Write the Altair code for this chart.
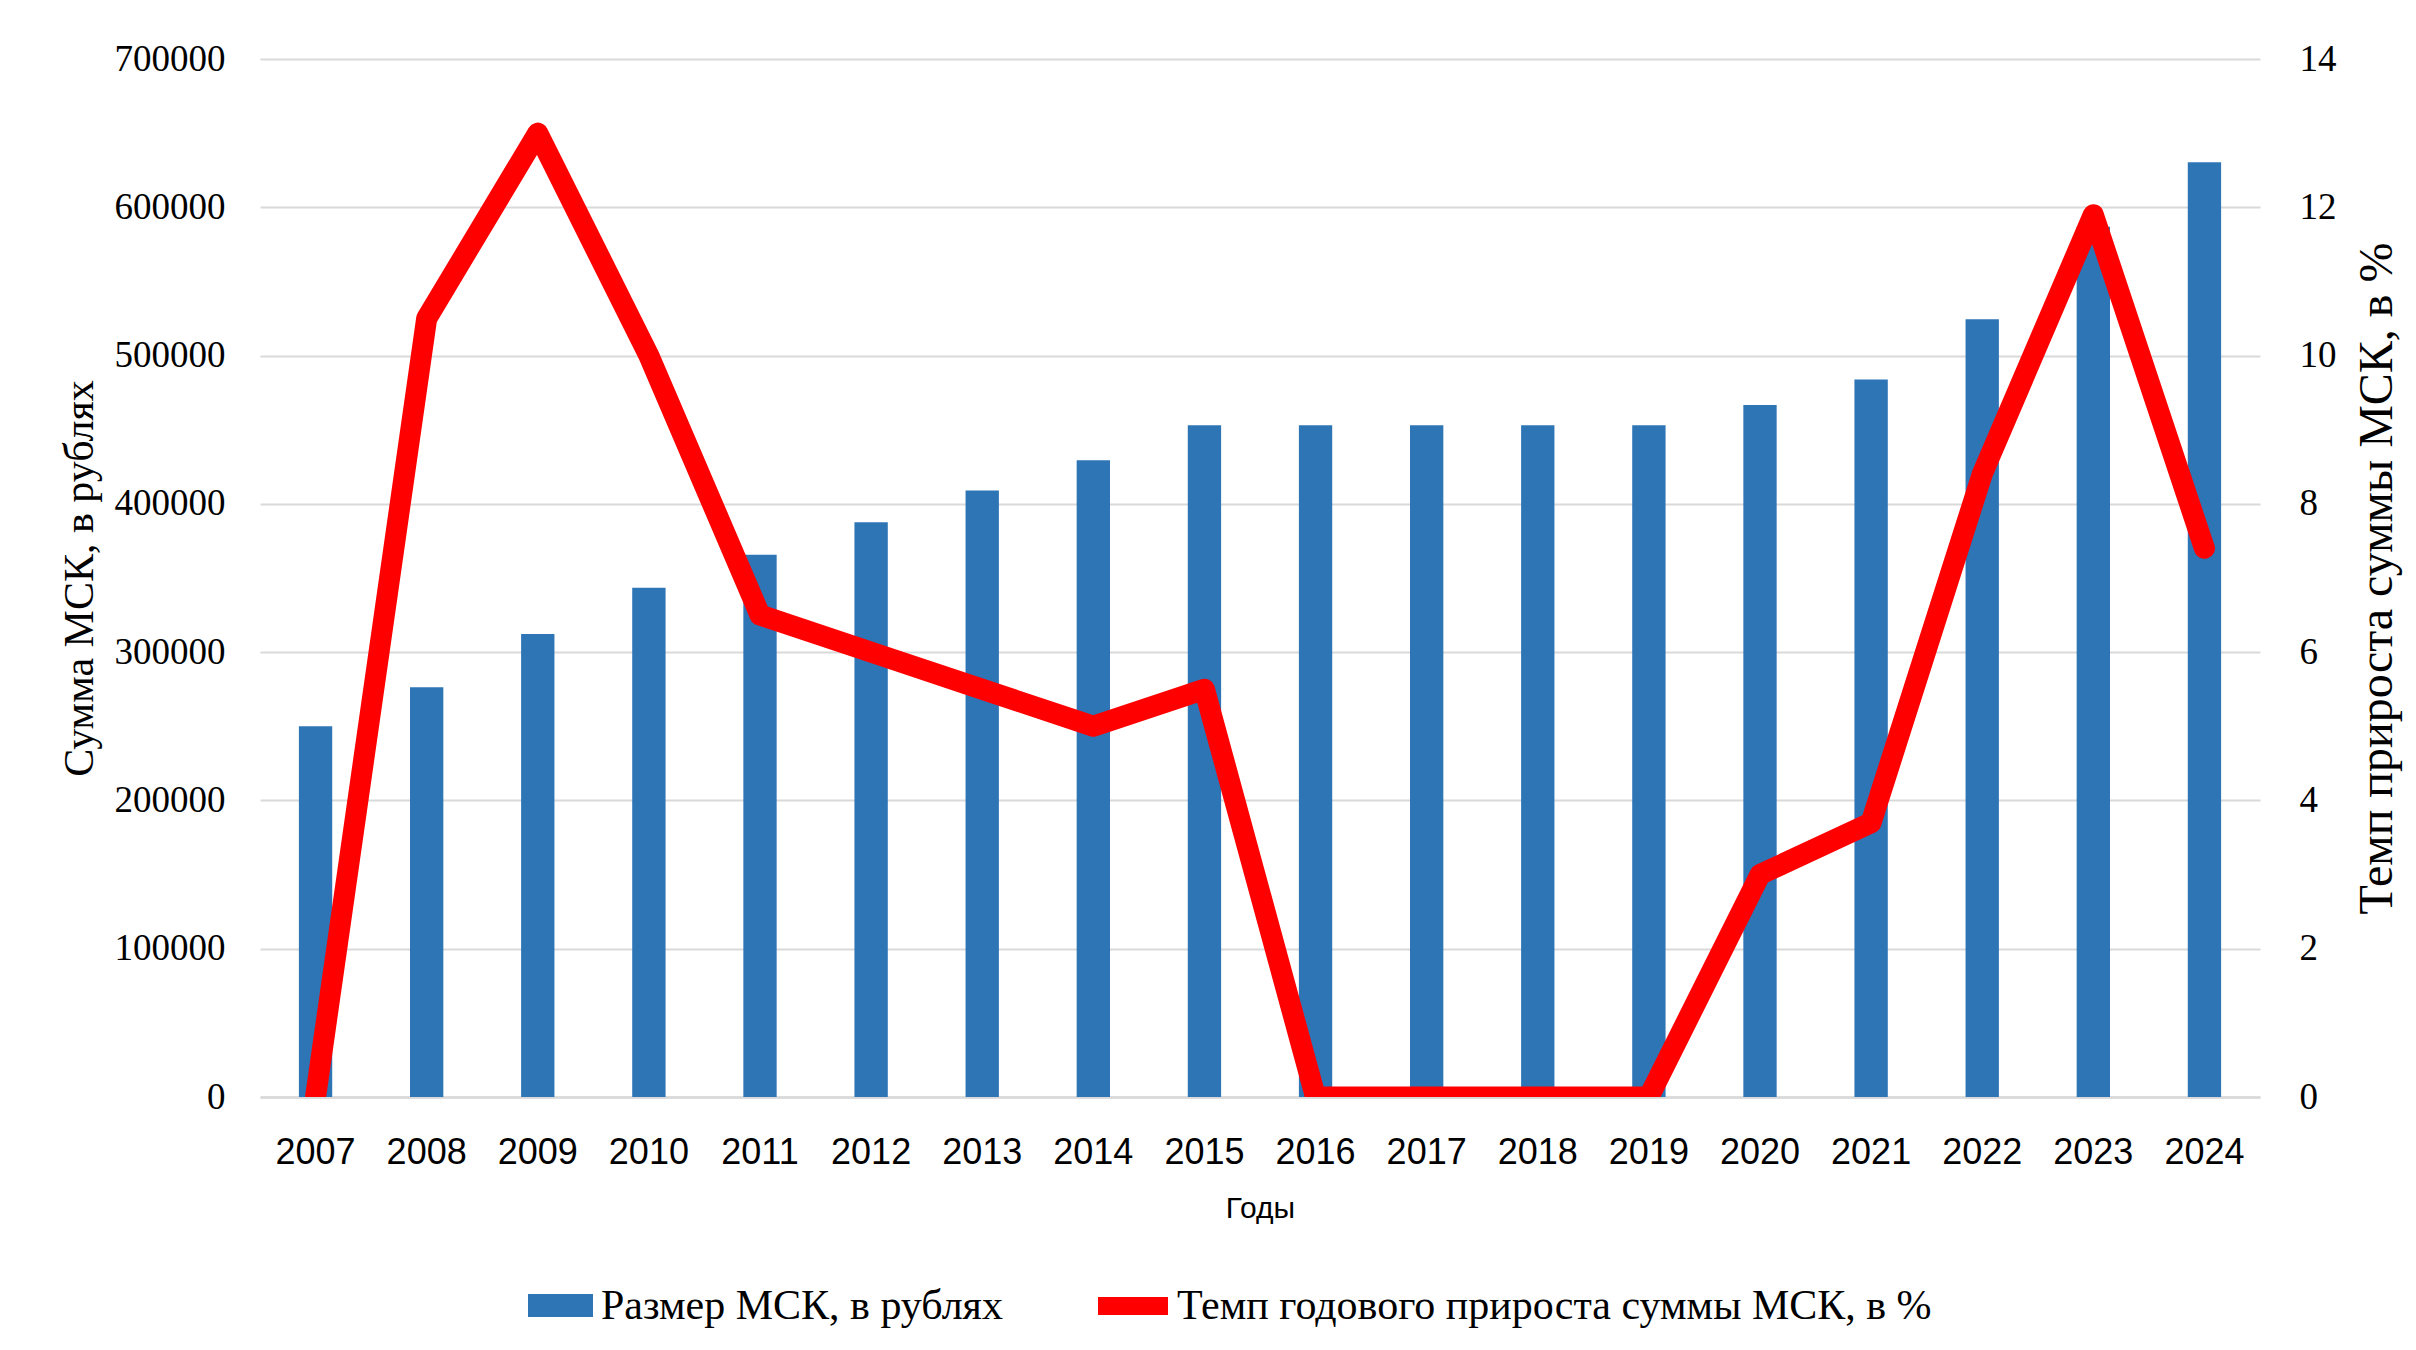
import altair as alt
import pandas as pd

years = [str(y) for y in range(2007, 2025)]
msk = [250000, 276250, 312162.5, 343378.8, 365698.4, 387640.3, 408960.5,
       429408.5, 453026, 453026, 453026, 453026, 453026, 466617,
       483881.83, 524527.9, 586946.72, 630380.78]
growth = [0, 10.5, 13.0, 10.0, 6.5, 6.0, 5.5, 5.0, 5.5, 0, 0, 0, 0,
          3.0, 3.7, 8.4, 11.9, 7.4]
left_ticks = [0, 100000, 200000, 300000, 400000, 500000, 600000, 700000]
right_ticks = [0, 2, 4, 6, 8, 10, 12, 14]

bar_name = "Размер МСК, в рублях"
line_name = "Темп годового прироста суммы МСК, в %"
x_title = "Годы"
y_left_title = "Сумма МСК, в рублях"
y_right_title = "Темп прироста суммы МСК, в %"

BLUE = "#2E75B6"
RED = "#FF0000"
GRID = "#D9D9D9"
SERIF = "Liberation Serif"
SANS = "Liberation Sans"

df = pd.DataFrame({
    "year": years,
    "msk": msk,
    "growth": growth,
    "bar_series": [bar_name] * len(years),
    "line_series": [line_name] * len(years),
})

x_enc = alt.X(
    "year:N", sort=years, title=x_title,
    scale=alt.Scale(paddingInner=0.70, paddingOuter=0.35),
    axis=alt.Axis(labelAngle=0, labelFont=SANS, labelFontSize=36, labelColor="#000000",
                  labelPadding=38, ticks=False, domainColor=GRID, domainWidth=2.5,
                  grid=False, titleFont=SANS, titleFontSize=30, titleFontWeight="normal",
                  titleColor="#000000", titlePadding=23),
)

bars = alt.Chart(df).mark_bar().encode(
    x=x_enc,
    y=alt.Y("msk:Q", title=y_left_title,
            scale=alt.Scale(domain=[0, 700000], nice=False),
            axis=alt.Axis(orient="left", values=left_ticks, format="d",
                          labelFont=SERIF, labelFontSize=37, labelColor="#000000",
                          labelPadding=35, ticks=False, domain=False,
                          grid=True, gridColor=GRID, gridWidth=2,
                          titleFont=SERIF, titleFontSize=42, titleFontWeight="normal",
                          titleColor="#000000", titlePadding=13)),
    color=alt.Color("bar_series:N",
                    scale=alt.Scale(domain=[bar_name], range=[BLUE]),
                    legend=alt.Legend(orient="none", legendX=277, legendY=1223, title=None,
                                      symbolType="M-1.4,-0.5H1.4V0.5H-1.4Z",
                                      symbolSize=2155, symbolStrokeWidth=0,
                                      labelFont=SERIF, labelFontSize=42,
                                      labelColor="#000000", labelOffset=17,
                                      labelLimit=1000)),
)

line = alt.Chart(df).mark_line(strokeWidth=21, strokeJoin="round", strokeCap="round",
                               clip=True).encode(
    x=x_enc,
    y=alt.Y("growth:Q", title=y_right_title,
            scale=alt.Scale(domain=[0, 14], nice=False),
            axis=alt.Axis(orient="right", values=right_ticks, format="d",
                          labelFont=SERIF, labelFontSize=37, labelColor="#000000",
                          labelPadding=39, ticks=False, domain=False, grid=False,
                          titleFont=SERIF, titleFontSize=48, titleFontWeight="normal",
                          titleColor="#000000", titleAngle=270, titleBaseline="top",
                          titlePadding=17)),
    stroke=alt.Stroke("line_series:N",
                      scale=alt.Scale(domain=[line_name], range=[RED]),
                      legend=alt.Legend(orient="none", legendX=829, legendY=1203, title=None,
                                        symbolType="stroke", symbolSize=4900,
                                        symbolStrokeWidth=18,
                                        labelFont=SERIF, labelFontSize=42,
                                        labelColor="#000000", labelOffset=0,
                                        labelLimit=1200)),
)

chart = alt.layer(bars, line).resolve_scale(
    y="independent"
).properties(
    width=2000, height=1038,
    autosize=alt.AutoSizeParams(type="none"),
    padding={"left": 252, "top": 51, "right": 148, "bottom": 237},
    background="#FFFFFF",
).configure_view(stroke=None)

chart.save("out.html", embed_options={"renderer": "svg", "actions": False})
